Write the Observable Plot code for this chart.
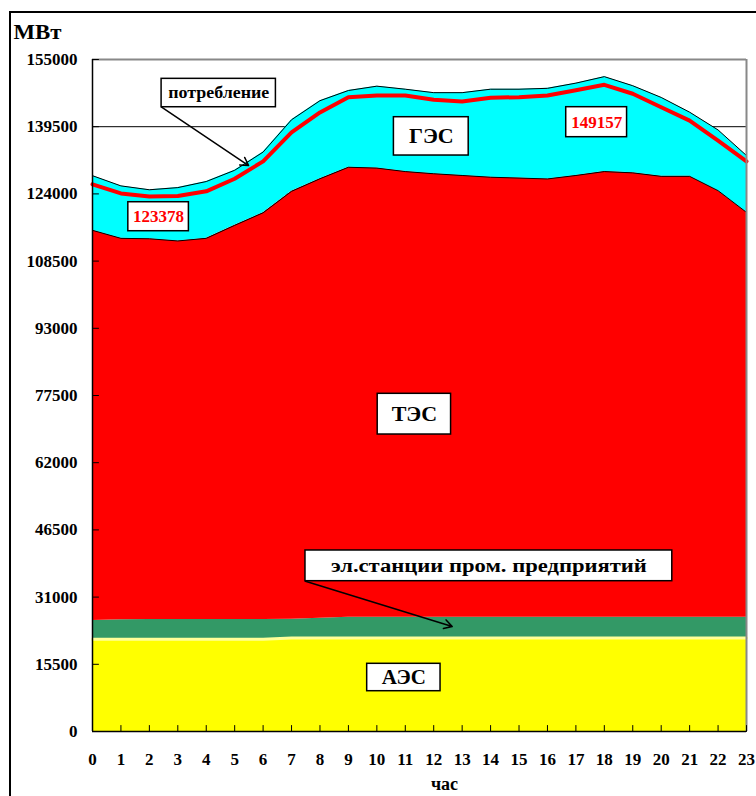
<!DOCTYPE html>
<html><head><meta charset="utf-8">
<script src="https://cdn.jsdelivr.net/npm/d3@7"></script>
<script src="https://cdn.jsdelivr.net/npm/@observablehq/plot@0.6"></script>
<style>
html,body{margin:0;padding:0;background:#fff;overflow:hidden;}
#wrap{position:relative;width:756px;height:796px;overflow:hidden;}
#frame{position:absolute;left:9px;top:11px;width:800px;height:900px;border:2px solid #000;pointer-events:none;}
#chart svg, #chart svg text{font-family:"Liberation Serif","Times New Roman",serif !important;font-weight:bold;}
</style></head><body><div id="wrap"><div id="chart"></div><div id="frame"></div></div>
<script>
// ---- data (MW by hour) ----
const hours = [0,1,2,3,4,5,6,7,8,9,10,11,12,13,14,15,16,17,18,19,20,21,22,23];
const yTicks = [0,15500,31000,46500,62000,77500,93000,108500,124000,139500,155000];
const aes  = [21300,21300,21300,21300,21300,21300,21300,21550,21550,21550,21550,21550,21550,21550,21550,21550,21550,21550,21550,21550,21550,21550,21550,21550];
const prom = [4300,4450,4550,4550,4550,4550,4550,4350,4550,4800,4800,4800,4800,4800,4800,4800,4800,4800,4800,4800,4800,4800,4800,4800];
const tes  = [90000,88000,87800,87300,87900,90900,93800,98700,101400,103800,103600,102800,102300,101900,101500,101300,101100,101900,102800,102500,101700,101700,98400,93400];
const ges  = [12600,12100,11300,12300,13100,12700,14000,16500,18000,17700,18900,19000,18700,19100,20300,20500,20900,21300,21900,20100,18200,14800,14000,13100];
const consumption = [126200,124100,123378,123500,124600,127500,131500,138200,142800,146300,146700,146700,145700,145300,146200,146300,146700,147900,149157,147100,144000,140900,136300,131500];

// ---- annotation boxes (data coords: hour, MW) ----
const boxText = ["потребление","123378","ГЭС","149157","ТЭС","АЭС","эл.станции пром. предприятий"];
const boxX1 = [2.43, 1.26, 10.6, 16.66, 10.03, 9.66, 7.49];
const boxX2 = [6.45, 3.39, 13.23, 18.8, 12.61, 12.24, 20.39];
const boxY1 = [143990, 115390, 132850, 137080, 68500, 9295, 34670];
const boxY2 = [150540, 122080, 141690, 144000, 77890, 15615, 41750];
const arrowFromX = [2.43, 7.49];
const arrowFromY = [143990, 34670];
const arrowToX = [5.49, 12.65];
const arrowToY = [130550, 24220];

// ---- stacking ----
const rows = hours.map((h, i) => {
  const a1 = aes[i];
  const p1 = a1 + prom[i];
  const t1 = p1 + tes[i];
  const g1 = t1 + ges[i];
  return {hour: h, a0: 0, a1, p1, t1, g1, cons: consumption[i]};
});

const tickShape = {draw(context, l) { context.moveTo(0, 0); context.lineTo(0, -l); }};
const idx = boxText.map((d, i) => i);
const cx = i => (boxX1[i] + boxX2[i]) / 2;
const cy = i => (boxY1[i] + boxY2[i]) / 2;
const sel = arr => idx.filter(i => arr.includes(boxText[i]));
const serif = "Liberation Serif, Times New Roman, serif";

const chart = Plot.plot({
  width: 756, height: 796,
  marginLeft: 92, marginRight: 10, marginTop: 59, marginBottom: 65,
  x: {domain: [0, 23]},
  y: {domain: [0, 155000]},
  style: {fontFamily: serif, fontSize: "17px", fontWeight: "bold", background: "white", color: "black", overflow: "visible"},
  marks: [
    Plot.ruleY(yTicks.slice(1, -1), {stroke: "#000", strokeWidth: 1}),
    Plot.areaY(rows, {x: "hour", y1: "a0", y2: "a1", fill: "#FFFF00"}),
    Plot.areaY(rows, {x: "hour", y1: "a1", y2: "p1", fill: "#339966"}),
    Plot.areaY(rows, {x: "hour", y1: "p1", y2: "t1", fill: "#FF0000"}),
    Plot.areaY(rows, {x: "hour", y1: "t1", y2: "g1", fill: "#00FFFF"}),
    Plot.lineY(rows, {x: "hour", y: "a1", stroke: "#FFFF99", strokeWidth: 3}),
    Plot.lineY(rows, {x: "hour", y: "t1", stroke: "#000", strokeWidth: 1}),
    Plot.lineY(rows, {x: "hour", y: "g1", stroke: "#000", strokeWidth: 1}),
    Plot.lineY(rows, {x: "hour", y: "cons", stroke: "#FF0000", strokeWidth: 4}),
    // plot frame
    Plot.ruleY([155000], {stroke: "#888", strokeWidth: 2}),
    Plot.ruleX([23], {stroke: "#888", strokeWidth: 2}),
    Plot.ruleX([0], {stroke: "#000", strokeWidth: 1.5}),
    Plot.ruleY([0], {stroke: "#000", strokeWidth: 1.5}),
    // inward ticks
    Plot.vector(yTicks, {x: () => 0, y: d => d, length: 6, rotate: 90, anchor: "start", shape: tickShape, stroke: "#000", strokeWidth: 1}),
    Plot.vector(hours, {x: d => d, y: () => 0, length: 6, rotate: 0, anchor: "start", shape: tickShape, stroke: "#000", strokeWidth: 1}),
    // axes
    Plot.axisY(yTicks, {tickSize: 0, tickPadding: 15, tickFormat: d => String(d), label: null, fontSize: 17, fontFamily: serif, fontWeight: "bold"}),
    Plot.axisX(hours, {tickSize: 0, tickPadding: 21, tickFormat: d => String(d), label: null, fontSize: 17, fontFamily: serif, fontWeight: "bold"}),
    Plot.text(["МВт"], {frameAnchor: "top-left", lineAnchor: "middle", dx: -79, dy: -27, textAnchor: "start", fontSize: 21, fontFamily: serif, fontWeight: "bold"}),
    Plot.text(["час"], {frameAnchor: "bottom", lineAnchor: "middle", dx: 25, dy: 53, fontSize: 18, fontFamily: serif, fontWeight: "bold"}),
    // annotations
    Plot.arrow([0, 1], {x1: i => arrowFromX[i], y1: i => arrowFromY[i], x2: i => arrowToX[i], y2: i => arrowToY[i], stroke: "#000", strokeWidth: 1.5, headLength: 9}),
    Plot.rect(idx, {x1: i => boxX1[i], x2: i => boxX2[i], y1: i => boxY1[i], y2: i => boxY2[i], fill: "#fff", stroke: "#000", strokeWidth: 1.5}),
    Plot.text(sel(["потребление"]), {x: cx, y: cy, text: i => boxText[i], fontSize: 16, fill: "#000", fontFamily: serif, fontWeight: "bold"}),
    Plot.text(sel(["123378", "149157"]), {x: cx, y: cy, text: i => boxText[i], fontSize: 17, fill: "#FF0000", fontFamily: serif, fontWeight: "bold"}),
    Plot.text(sel(["ГЭС", "ТЭС"]), {x: cx, y: cy, text: i => boxText[i], fontSize: 22, fill: "#000", fontFamily: serif, fontWeight: "bold"}),
    Plot.text(sel(["АЭС"]), {x: cx, y: cy, text: i => boxText[i], fontSize: 21, fill: "#000", fontFamily: serif, fontWeight: "bold"}),
    Plot.text(sel(["эл.станции пром. предприятий"]), {x: cx, y: cy, text: i => boxText[i], fontSize: 18, fill: "#000", fontFamily: serif, fontWeight: "bold"})
  ]
});
document.getElementById("chart").appendChild(chart);

// the reference's Cyrillic lowercase glyphs are wider: stretch these texts to the reference widths
const stretch = {"потребление": 101, "эл.станции пром. предприятий": 316, "МВт": 48};
chart.querySelectorAll("text").forEach(t => {
  const w = stretch[t.textContent];
  if (w) { t.setAttribute("textLength", w); t.setAttribute("lengthAdjust", "spacingAndGlyphs"); }
});
</script>
</body></html>
